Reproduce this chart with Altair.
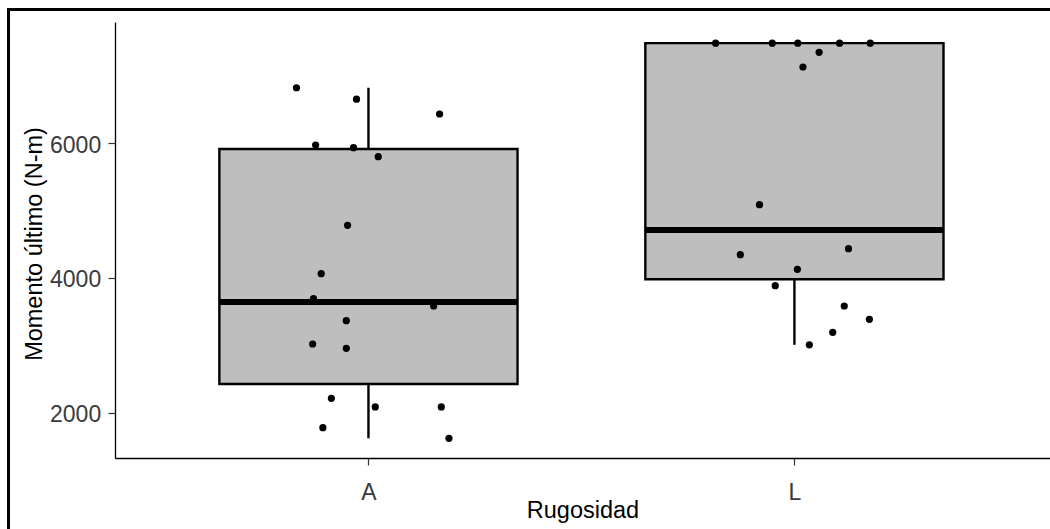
import altair as alt
import pandas as pd

# ---- data ----
groups = ["A", "L"]
q1 = [2430, 3981]
median = [3644, 4711]
q3 = [5911, 7480]
whisker_lo = [1625, 3010]
whisker_hi = [6819, 7480]

pts_A = [6819, 6649, 6430, 5970, 5931, 5798, 4780, 4064, 3694, 3585,
         3368, 3022, 2958, 2217, 2089, 2089, 1783, 1625]
jit_A = [-0.169, -0.028, 0.167, -0.124, -0.035, 0.023, -0.049, -0.111, -0.129, 0.153,
         -0.052, -0.131, -0.052, -0.087, 0.016, 0.171, -0.107, 0.189]
pts_L = [7480, 7480, 7480, 7480, 7480, 7344, 7126, 5086, 4345, 4434,
         4128, 3886, 3585, 3388, 3195, 3010]
jit_L = [-0.185, -0.052, 0.008, 0.106, 0.178, 0.058, 0.020, -0.082, -0.127, 0.127,
         0.007, -0.045, 0.117, 0.176, 0.090, 0.035]

tick_values_y = [2000, 4000, 6000]
x_label = "Rugosidad"
y_label = "Momento último (N-m)"

# ---- tables ----
half_box = 0.35
box = pd.DataFrame({
    "grupo": groups,
    "pos": [1, 2],
    "q1": q1, "median": median, "q3": q3,
    "wlo": whisker_lo, "whi": whisker_hi,
})
box["left"] = box["pos"] - half_box
box["right"] = box["pos"] + half_box

pts = pd.DataFrame({
    "grupo": ["A"] * len(pts_A) + ["L"] * len(pts_L),
    "valor": pts_A + pts_L,
    "jit": jit_A + jit_L,
})
pts["xpos"] = pts["grupo"].map({"A": 1, "L": 2}) + pts["jit"]

FONT = "Liberation Sans"
xs = alt.Scale(domain=[0.405, 2.6], nice=False, zero=False)
ys = alt.Scale(domain=[1333, 7793], nice=False, zero=False)

x_axis = alt.Axis(
    title=x_label, values=[1, 2],
    labelExpr="datum.value == 1 ? 'A' : 'L'",
    grid=False, domainColor="black", domainWidth=1.3,
    tickColor="#333333", tickSize=7, tickWidth=1.2,
    labelFont=FONT, labelFontSize=23, labelColor="#3a3a3a",
    labelBaseline="alphabetic", labelPadding=34.5,
    titleFont=FONT, titleFontSize=23.5, titleFontWeight="normal", titleColor="black",
    titleBaseline="alphabetic", titleY=59.7, titleX=467.5, titleAlign="center",
)
y_axis = alt.Axis(
    title=y_label, values=tick_values_y, format="d",
    grid=False, domainColor="black", domainWidth=1.3,
    tickColor="#333333", tickSize=7, tickWidth=1.2,
    labelFont=FONT, labelFontSize=23, labelColor="#3a3a3a",
    labelPadding=7.3, labelOffset=2,
    titleFont=FONT, titleFontSize=23.5, titleFontWeight="normal", titleColor="black",
    titleAngle=270, titleBaseline="alphabetic", titleAlign="center",
    titleX=-73.3, titleY=221.5,
)

base_box = alt.Chart(box)

rect = base_box.mark_rect(fill="#bebebe", stroke="black", strokeWidth=2.4).encode(
    x=alt.X("left:Q", scale=xs, axis=x_axis),
    x2="right:Q",
    y=alt.Y("q1:Q", scale=ys, axis=y_axis),
    y2="q3:Q",
)

wh_low = base_box.mark_rule(color="black", strokeWidth=2.4).encode(
    x=alt.X("pos:Q", scale=xs, axis=x_axis),
    y=alt.Y("wlo:Q", scale=ys, axis=y_axis),
    y2="q1:Q",
)
wh_high = base_box.mark_rule(color="black", strokeWidth=2.4).encode(
    x=alt.X("pos:Q", scale=xs, axis=x_axis),
    y=alt.Y("q3:Q", scale=ys, axis=y_axis),
    y2="whi:Q",
)
med = base_box.mark_rule(color="black", strokeWidth=6).encode(
    x=alt.X("left:Q", scale=xs, axis=x_axis),
    x2="right:Q",
    y=alt.Y("median:Q", scale=ys, axis=y_axis),
)

points = alt.Chart(pts).mark_circle(color="black", opacity=1, size=52).encode(
    x=alt.X("xpos:Q", scale=xs, axis=x_axis),
    y=alt.Y("valor:Q", scale=ys, axis=y_axis),
)

frame = alt.Chart(pd.DataFrame({"f": [0]})).mark_rect(
    fill="white", fillOpacity=0, stroke="black", strokeWidth=3
).encode(
    x=alt.value(-106.5), x2=alt.value(1100),
    y=alt.value(-12.5), y2=alt.value(700),
)

chart = alt.layer(rect, wh_low, wh_high, med, points, frame).properties(
    width=935, height=436,
    autosize=alt.AutoSizeParams(type="none"),
    padding={"left": 115, "top": 22, "right": 0, "bottom": 71},
    background="white",
).configure_view(stroke=None)

chart.save("out.html", embed_options={"renderer": "svg", "actions": False})
